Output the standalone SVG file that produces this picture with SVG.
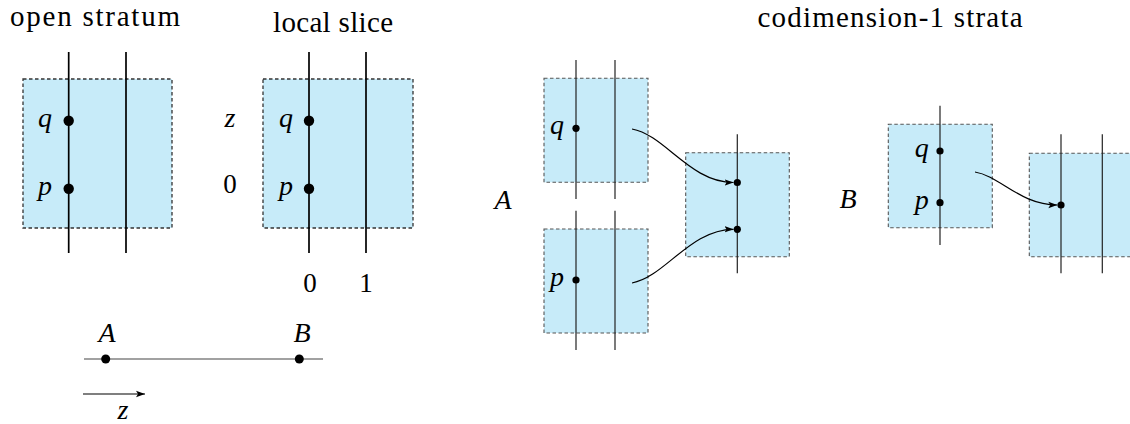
<svg xmlns="http://www.w3.org/2000/svg" width="1130" height="424" viewBox="0 0 1130 424" font-family="Liberation Serif, Times New Roman, DejaVu Serif, Noto Serif, serif">
<style>
.t{font-size:29px;fill:#000;text-anchor:middle}
.m{font-size:28px;font-style:italic;fill:#000;text-anchor:middle}
.n{font-size:27px;fill:#000;text-anchor:middle}
.boxL{fill:#c7ebf9;stroke:#333;stroke-width:1.3;stroke-dasharray:3.5 2.5}
.boxS{fill:#c7ebf9;stroke:#555;stroke-width:1.1;stroke-dasharray:3.5 2.5}
.lnL{stroke:#000;stroke-width:1.7}
.lnS{stroke:#222;stroke-width:1.2}
.c{fill:none;stroke:#000;stroke-width:1.2}
</style>
<defs>
<marker id="ah" markerUnits="userSpaceOnUse" markerWidth="10" markerHeight="8" refX="9" refY="4" orient="auto">
<path d="M0,0.8 L9,4 L0,7.2 L2,4 Z" fill="#000"/>
</marker>
</defs>

<g id="titles">
<text class="t" x="95" y="26" textLength="170" lengthAdjust="spacing">open stratum</text>
<text class="t" x="333" y="32" textLength="120" lengthAdjust="spacing">local slice</text>
<text class="t" x="890" y="27" textLength="265" lengthAdjust="spacing">codimension-1 strata</text>
</g>

<g id="open-stratum">
<rect class="boxL" x="23" y="79" width="149" height="149"/>
<line class="lnL" x1="68.7" y1="52" x2="68.7" y2="253"/>
<line class="lnL" x1="126" y1="52" x2="126" y2="253"/>
<circle cx="68.7" cy="120.7" r="5.2"/>
<circle cx="68.7" cy="188.7" r="5.2"/>
<text class="m" x="45" y="127">q</text>
<text class="m" x="45" y="195">p</text>
</g>

<g id="local-slice">
<rect class="boxL" x="263" y="79" width="150" height="149"/>
<line class="lnL" x1="309" y1="52" x2="309" y2="253"/>
<line class="lnL" x1="366" y1="52" x2="366" y2="253"/>
<circle cx="309" cy="120.7" r="5.2"/>
<circle cx="309" cy="188.7" r="5.2"/>
<text class="m" x="286" y="127">q</text>
<text class="m" x="286" y="195">p</text>
<text class="m" x="230" y="127">z</text>
<text class="n" x="230" y="193">0</text>
<text class="n" x="310" y="292">0</text>
<text class="n" x="366" y="292">1</text>
</g>

<g id="AB-line">
<line x1="84" y1="359" x2="323" y2="359" stroke="#444" stroke-width="1.2"/>
<circle cx="105.7" cy="359" r="4.5"/>
<circle cx="299.3" cy="359" r="4.5"/>
<text class="m" x="107" y="342">A</text>
<text class="m" x="302" y="342">B</text>
</g>

<g id="z-arrow">
<line class="c" x1="83" y1="394" x2="145" y2="394" marker-end="url(#ah)"/>
<text class="m" x="123" y="419">z</text>
</g>

<g id="A-top">
<rect class="boxS" x="544" y="78.3" width="104" height="104"/>
<line class="lnS" x1="576" y1="60" x2="576" y2="199"/>
<line class="lnS" x1="615" y1="60" x2="615" y2="199"/>
<circle cx="576" cy="128.3" r="3.6"/>
<text class="m" x="557" y="134">q</text>
</g>

<g id="A-bottom">
<rect class="boxS" x="544" y="229" width="104" height="104"/>
<line class="lnS" x1="576" y1="210.7" x2="576" y2="350"/>
<line class="lnS" x1="615" y1="210.7" x2="615" y2="350"/>
<circle cx="576" cy="280" r="3.6"/>
<text class="m" x="557" y="286">p</text>
</g>

<g id="A-target">
<rect class="boxS" x="685.7" y="152.7" width="103.6" height="104"/>
<line class="lnS" x1="737.3" y1="134.3" x2="737.3" y2="273.3"/>
<circle cx="737.3" cy="182.5" r="3.6"/>
<circle cx="737.3" cy="229.3" r="3.6"/>
</g>

<text class="m" x="503" y="209">A</text>

<g id="B-source">
<rect class="boxS" x="888.3" y="124.3" width="104" height="103.4"/>
<line class="lnS" x1="940" y1="105.7" x2="940" y2="245"/>
<circle cx="940" cy="151" r="3.6"/>
<circle cx="940" cy="202.7" r="3.6"/>
<text class="m" x="921.7" y="157">q</text>
<text class="m" x="921.7" y="209">p</text>
</g>

<g id="B-target">
<rect class="boxS" x="1029.3" y="153.3" width="104" height="103.4"/>
<line class="lnS" x1="1061" y1="134.3" x2="1061" y2="273.3"/>
<line class="lnS" x1="1102.3" y1="134.3" x2="1102.3" y2="273.3"/>
<circle cx="1061" cy="205" r="3.6"/>
</g>

<text class="m" x="848" y="208">B</text>

<g id="connectors">
<path class="c" d="M632,129 C665,135 690,182.5 733.5,182.5" marker-end="url(#ah)"/>
<path class="c" d="M632,283 C665,277 690,229.3 733.5,229.3" marker-end="url(#ah)"/>
<path class="c" d="M975,172 C1000,176 1020,205 1057.3,205" marker-end="url(#ah)"/>
</g>
</svg>
